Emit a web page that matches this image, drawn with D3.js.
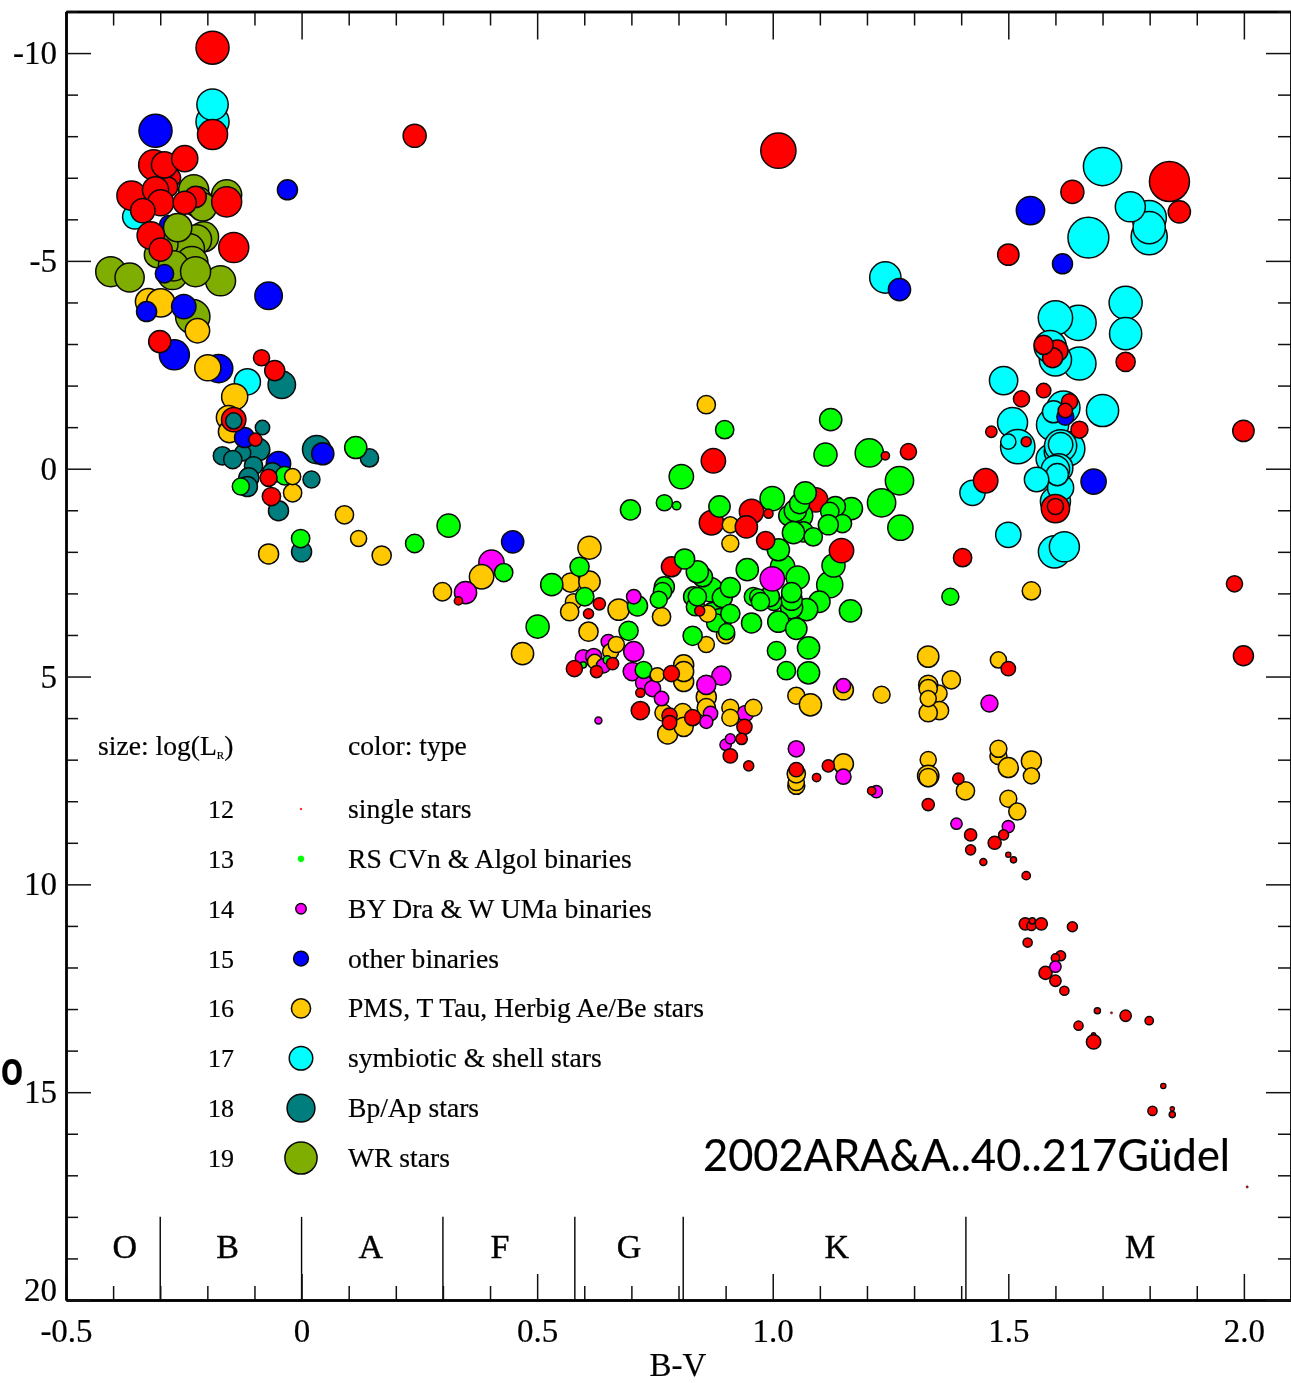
<!DOCTYPE html>
<html>
<head>
<meta charset="utf-8">
<style>
html,body{margin:0;padding:0;background:#fff;overflow:hidden}
svg{display:block;filter:blur(0.35px)}
text{font-family:"Liberation Serif","Times New Roman",serif;fill:#000;stroke:#000;stroke-width:0.2px}
</style>
<script src="https://cdn.jsdelivr.net/npm/d3@7"></script>
</head>
<body>
<svg id="chart" width="1291" height="1383"></svg>
<script>
// Every star is [B-V, absolute magnitude Mv, log(L_R)]
const apEarlyBlue = [[-0.176,-2.41,18.1],[-0.049,-0.12,17.2],[-0.320,-5.56,15.8],[-0.282,-5.87,15.8]];
const apStars = [[-0.042,-2.02,17.9],[-0.083,-0.99,14.9],[-0.091,-0.46,16.7],[-0.125,-0.38,15.3],[-0.168,-0.31,15.8],[-0.146,-0.22,15.8],[-0.102,-0.07,15.8],[0.032,-0.46,18.1],[0.144,-0.26,15.8],[-0.062,0.10,16.2],[0.021,0.26,15.5],[-0.112,0.22,16.2],[-0.115,0.43,16.2],[-0.049,1.01,16.2],[0,2.00,16.2]];
const apStarsLate = [[-0.144,-1.15,15.3]];
const wrStars = [[-0.405,-4.74,18.5],[-0.365,-4.60,18.3],[-0.229,-6.71,18.5],[-0.159,-6.59,18.5],[-0.221,-6.42,18.5],[-0.210,-6.30,18.1],[-0.208,-5.58,18.5],[-0.223,-5.51,18.5],[-0.238,-5.29,18.5],[-0.306,-5.15,17.6],[-0.290,-5.40,17.6],[-0.233,-4.96,19],[-0.172,-4.52,18.5],[-0.274,-4.67,18.5],[-0.272,-4.88,18.5],[-0.225,-4.74,18.5],[-0.231,-3.66,19.5],[-0.263,-5.80,18.1]];
const shellStars = [[-0.354,-6.06,17.2],[-0.189,-8.35,19.2],[-0.189,-8.76,18.8],[-0.115,-2.09,17.6],[1.239,-4.60,18.8],[1.700,-7.27,20.4],[1.799,-5.58,19.9],[1.799,-6.04,19.5],[1.799,-5.80,19.0],[1.759,-6.30,18.5],[1.670,-5.56,21],[1.749,-3.99,19.2],[1.749,-3.25,19.0],[1.649,-3.51,19.7],[1.600,-3.63,19.5],[1.651,-2.53,19.2],[1.600,-2.62,19],[1.589,-2.94,19],[1.490,-2.12,18.1],[1.700,-1.40,19],[1.617,-1.47,19.2],[1.594,-1.06,19],[1.596,-1.37,16.7],[1.509,-1.11,18.5],[1.520,-0.53,19.5],[1.500,-0.65,15.1],[1.626,-0.48,19.5],[1.589,-0.24,18.1],[1.604,-0.41,17.6],[1.611,-0.55,19],[1.611,-0.58,17.2],[1.600,0.79,18.5],[1.611,0.46,17.6],[1.607,-0.02,18.1],[1.600,0.02,18.1],[1.604,0.14,16.7],[1.560,0.26,17.2],[1.424,0.58,17.4],[1.500,1.59,17.4],[1.598,2.00,19],[1.619,1.88,18.5]];
const byDraEarly = [[0.403,2.26,17.4],[0.651,4.16,14.9],[0.598,4.55,15.3],[0.620,4.52,15.3],[0.942,5.89,15.3]];
const pmsStars = [[-0.325,-4.02,17.6],[-0.299,-3.99,18.1],[-0.221,-3.32,17.2],[-0.199,-2.43,17.6],[-0.142,-1.73,17.6],[-0.155,-1.23,17.2],[-0.153,-0.89,16.7],[-0.019,0.58,15.8],[0.091,1.11,15.8],[0.121,1.68,15.3],[0.170,2.09,16],[-0.070,2.05,16.2],[0.382,2.60,17.2],[0.299,2.96,15.8],[0.611,1.90,16.9],[0.571,2.74,16],[0.611,2.72,16.5],[0.577,3.20,15.3],[0.569,3.44,15.8],[0.673,3.39,16.5],[0.609,3.92,16],[0.469,4.45,16.7],[0.859,-1.54,15.8],[0.910,1.80,15.5],[0.764,3.56,15.8],[0.900,3.99,15.8],[0.859,4.23,15.3],[0.656,4.40,15.3],[0.668,4.23,15.3],[0.622,4.64,14.9],[0.811,5.12,16.2],[0.811,4.72,16.2],[0.811,4.88,16.2],[0.768,5.87,15.5],[0.809,5.87,15.8],[0.777,6.38,16.2],[0.811,6.21,16],[0.859,5.49,16.2],[0.859,5.75,15.8],[0.910,5.75,15.5],[0.910,5.99,15.5],[0.959,5.75,15.5],[1.050,5.46,15.5],[1.080,5.68,16.7],[1.050,7.63,15.5],[1.050,7.55,15.3],[1.050,7.34,15.8],[1.150,7.10,16.2],[1.150,5.32,16.2],[1.231,5.44,15.5],[1.330,4.52,16.5],[1.352,5.41,15.5],[1.354,5.82,15.8],[1.330,5.20,16],[1.330,5.29,15.8],[1.330,5.87,15.8],[1.330,5.53,15.3],[1.379,5.08,15.8],[1.479,4.60,15.3],[1.479,6.91,15.5],[1.479,6.74,15.5],[1.500,7.19,16.2],[1.549,7.03,16.2],[1.549,7.39,15.3],[1.330,7.00,15.3],[1.330,7.39,16.5],[1.330,7.43,15.8],[1.409,7.75,15.8],[1.500,7.94,15.5],[1.519,8.25,15.5],[1.549,2.94,15.8]];
const otherBinaries = [[-0.310,-8.13,19.2],[-0.030,-6.71,16.2],[-0.291,-4.69,15.8],[-0.070,-4.16,17.9],[-0.329,-3.78,16.2],[-0.250,-3.90,17.2],[-0.270,-2.74,18.5],[-0.121,-0.75,16.2],[0.045,-0.36,16.7],[0.448,1.76,16.7],[1.547,-6.21,18.1],[1.615,-4.93,16.2],[1.269,-4.31,16.7],[1.621,-1.25,15.5],[1.681,0.31,17.4]];
const byDra = [[0.348,2.98,16.7],[0.641,4.74,14.9],[0.705,4.40,16.2],[0.702,4.88,15.8],[0.726,5.15,15.3],[0.745,5.29,15.3],[0.764,5.53,14.9],[0.630,6.06,13.2],[0.891,4.98,16],[0.859,5.20,16],[0.868,5.89,14.9],[0.859,6.09,14.6],[0.900,6.64,14.2],[0.910,6.50,13.9],[1.050,6.74,15.3],[1.150,7.41,15.1],[1.150,5.22,14.9],[1.220,7.77,14.4],[1.460,5.65,15.5],[1.390,8.54,14.2],[1.500,8.61,14.4]];
const byDraLate = [[0.705,3.08,14.9],[0.999,2.65,17.2],[1.600,11.98,14.2]];
const singleEarly = [[0.870,1.30,17.2],[1.091,0.75,17.2],[0.785,2.36,16.2],[0.955,1.03,17.2]];
const rsCvn = [[0.115,-0.51,16.7],[-0.036,0.17,15.8],[-0.129,0.43,15.5],[-0.002,1.68,15.8],[0.312,1.37,16.9],[0.240,1.80,15.8],[0.429,2.50,15.8],[0.598,4.72,13],[0.649,4.60,13.5],[0.590,2.36,16],[0.531,2.79,16.7],[0.601,3.08,15.8],[0.713,3.30,16.2],[0.694,3.90,16],[0.501,3.80,16.9],[0.698,0.99,16.2],[0.770,0.82,15.3],[0.796,0.89,13.5],[0.806,0.19,17.2],[0.898,-0.94,15.8],[1.123,-1.18,16.7],[1.112,-0.34,16.9],[1.205,-0.38,18.1],[1.269,0.29,18.1],[1.231,0.82,18.1],[1.271,1.42,17.4],[0.887,0.91,16.5],[0.999,0.72,17.2],[1.059,1.13,17.2],[1.034,1.13,16.2],[1.048,1.01,16.7],[1.057,0.84,16.2],[1.069,0.58,16.7],[1.065,1.52,16.2],[1.044,1.54,16.7],[1.086,1.64,15.8],[1.167,0.96,16.7],[1.133,0.91,16.2],[1.121,1.03,15.8],[1.148,1.32,15.8],[1.118,1.35,16.2],[1.021,2.36,17.2],[1.012,1.95,16.7],[1.053,2.62,16.9],[1.121,2.79,17.6],[1.129,2.33,16.9],[1.099,3.20,16.5],[1.165,3.42,16.7],[1.072,3.39,16.7],[1.040,3.34,16.7],[1.040,3.15,16.5],[1.040,2.98,16.2],[1.002,3.22,15.3],[1.012,3.68,16.5],[1.050,3.85,16.5],[0.946,2.43,16.7],[0.993,3.08,16.2],[0.959,3.08,15.8],[0.968,3.08,15.3],[0.974,3.20,15.8],[0.955,3.71,16.2],[0.868,2.91,17.2],[0.851,2.60,16.2],[0.840,2.48,16.7],[0.813,2.17,16.2],[0.770,2.84,16.2],[0.766,2.96,15.8],[0.758,3.15,15.5],[0.832,3.08,16.2],[0.836,3.32,15.8],[0.840,3.08,15.8],[0.872,3.46,16.2],[0.893,3.10,16.2],[0.910,2.86,16.2],[0.889,3.63,16.7],[0.879,3.71,15.8],[0.910,3.49,16],[0.902,3.92,15.3],[0.830,4.02,16],[1.008,4.38,15.8],[1.076,4.31,16.7],[1.029,4.86,15.8],[1.076,4.91,16.7],[0.726,4.84,15.5],[1.377,3.08,15.5]];
const pmsLate = [[-0.019,0.19,15.3],[0.910,1.35,15.3],[0.862,3.49,15.5],[0.755,4.96,14.9]];
const singleStars = [[-0.189,-10.13,19.2],[-0.189,-8.04,18.5],[-0.278,-7.00,16.2],[-0.284,-6.78,16.2],[-0.314,-7.31,18.5],[-0.291,-7.31,17.6],[-0.248,-7.46,17.6],[-0.361,-6.57,18.3],[-0.310,-6.71,17.6],[-0.225,-6.54,16.5],[-0.299,-6.40,17.6],[-0.337,-6.21,17.2],[-0.248,-6.40,16.9],[-0.159,-6.42,18.5],[-0.320,-5.61,17.9],[-0.299,-5.27,16.9],[-0.144,-5.32,18.5],[-0.301,-3.06,16.7],[-0.085,-2.67,15.3],[-0.057,-2.36,16.2],[-0.144,-1.18,17.2],[-0.098,-0.70,14.6],[-0.070,0.22,15.5],[-0.064,0.67,15.8],[0.240,-8.01,16.9],[1.012,-7.65,19.7],[0.333,3.18,13.5],[0.632,3.25,14.4],[0.609,3.49,13.9],[0.874,-0.19,17.2],[1.239,-0.31,13.5],[1.288,-0.41,15.3],[0.944,1.40,16.7],[0.991,1.08,13.7],[0.985,1.73,15.8],[1.146,1.97,17.2],[0.845,3.42,13.9],[0.579,4.81,15.3],[0.660,4.69,14.4],[0.626,4.88,14.4],[0.785,4.93,15.3],[0.719,5.39,13.7],[0.719,5.82,15.8],[0.781,5.94,15.1],[0.781,6.11,14.9],[0.830,5.99,15.3],[0.940,6.21,15.1],[0.934,6.50,14.2],[0.910,6.91,14.9],[0.949,7.15,13.9],[1.050,7.24,14.9],[1.093,7.43,13.5],[1.118,7.15,14.4],[1.210,7.75,13.5],[1.500,4.81,14.9],[1.394,7.46,14.2],[1.330,8.08,14.4],[1.420,8.81,14.4],[1.420,9.17,13.9],[1.447,9.46,13.2],[1.471,9.00,14.6],[1.490,8.81,13.9],[1.500,9.29,12.8],[1.511,9.41,13],[1.538,9.79,13.5],[1.536,10.95,14.4],[1.549,11.00,13.7],[1.570,10.95,14.4],[1.551,10.88,13],[1.636,11.02,13.9],[1.541,11.40,13.7],[1.611,11.72,13.9],[1.600,11.77,13.5],[1.579,12.13,14.6],[1.600,12.32,14.2],[1.619,12.56,13.7],[1.689,13.04,13],[1.719,13.09,12.1],[1.749,13.16,14.2],[1.799,13.28,13.5],[1.649,13.40,13.7],[1.681,13.62,12.6],[1.681,13.79,14.9],[1.829,14.85,12.8],[1.806,15.45,13.7],[1.848,15.40,12.6],[1.848,15.54,13],[2.007,17.28,12.1],[1.842,-6.91,20.8],[1.636,-6.66,16.9],[1.863,-6.18,16.7],[1.500,-5.15,16.5],[1.749,-2.57,16],[1.604,-2.84,16.5],[1.594,-2.67,16.2],[1.575,-2.98,16],[1.528,-1.68,15.3],[1.575,-1.88,14.9],[1.630,-1.61,15.3],[1.621,-1.40,14.9],[1.651,-0.94,15.5],[1.464,-0.89,14.2],[1.538,-0.65,13.9],[1.600,0.96,18.1],[1.600,0.91,15.3],[1.452,0.29,17.2],[1.403,2.14,15.8],[1.999,-0.91,16.5],[1.980,2.77,15.3],[1.999,4.50,16.2]];

const legendSizes = [12,13,14,15,16,17,18,19];
const legendLabels = ["single stars","RS CVn & Algol binaries","BY Dra & W UMa binaries","other binaries","PMS, T Tau, Herbig Ae/Be stars","symbiotic & shell stars","Bp/Ap stars","WR stars"];
const legendTypes = ["single","rscvn","bydra","other","pms","shell","ap","wr"];
const spectralEdges = [-0.3,0,0.3,0.58,0.81,1.41];
const spectralNames = ["O","B","A","F","G","K","M"];
const spectralLabelBV = [-0.375,-0.157,0.147,0.421,0.695,1.136,1.78];
const xMajor = [-0.5,0,0.5,1.0,1.5,2.0];
const xMajorLabels = ["-0.5","0","0.5","1.0","1.5","2.0"];
const yMajor = [-10,-5,0,5,10,15,20];
const yMajorLabels = ["-10","-5","0","5","10","15","20"];

const typeColor = {single:"#ff0000",rscvn:"#00ff00",bydra:"#ff00ff",other:"#0000ff",pms:"#ffc800",shell:"#00ffff",ap:"#007d7d",wr:"#7fae00"};
const drawOrder = [["other",apEarlyBlue],["ap",apStars],["wr",wrStars],["shell",shellStars],["bydra",byDraEarly],["pms",pmsStars],["other",otherBinaries],["bydra",byDra],["single",singleEarly],["rscvn",rsCvn],["pms",pmsLate],["single",singleStars],["ap",apStarsLate],["bydra",byDraLate]];

const svg = d3.select("#chart");
const x = d3.scaleLinear().domain([-0.5,2.1]).range([66,1291]);
const y = d3.scaleLinear().domain([-11,20]).range([11.5,1300]);
const rad = d3.scaleLinear().domain([12,19]).range([0.8,16]);
const [L,R] = x.range(), [T,B] = y.range();

function dot(sel){
  sel.attr("r",d=>Math.max(0.35,rad(d.L)+0.1))
     .attr("fill",d=>typeColor[d.t])
     .attr("stroke","#0a0a0a")
     .attr("stroke-width",d=>Math.min(1.5,Math.max(0.2,rad(d.L)*0.5)));
}
const starsG = svg.append("g");
drawOrder.forEach(([t,arr])=>{
  starsG.append("g").selectAll("circle").data(arr.map(p=>({bv:p[0],mv:p[1],L:p[2],t})))
    .join("circle").attr("cx",d=>x(d.bv)).attr("cy",d=>y(d.mv)).call(dot);
});

// spectral class strip
svg.append("g").selectAll("line").data(spectralEdges).join("line")
  .attr("x1",d=>x(d)).attr("x2",d=>x(d)).attr("y1",y(18)).attr("y2",B)
  .attr("stroke","#000").attr("stroke-width",1.4);
svg.append("g").selectAll("text").data(spectralNames).join("text")
  .attr("x",(d,i)=>x(spectralLabelBV[i])).attr("y",1258).attr("text-anchor","middle")
  .attr("font-size",34).style("stroke-width","0.4px").text(d=>d);

// axes
const xMinor = d3.range(-5,21).map(v=>v/10).filter(v=>!xMajor.includes(v));
const yMinor = d3.range(-11,21).filter(v=>!yMajor.includes(v));
function styleAxis(g){ g.select(".domain").attr("stroke","#000").attr("stroke-width",2.4);
  g.selectAll(".tick line").attr("stroke","#111").attr("stroke-width",1.5);
  g.selectAll(".tick text").attr("font-family",'"Liberation Serif",serif').attr("font-size",33).attr("fill","#000"); }
const lab = (vals,labs)=>d=>labs[vals.indexOf(d)];
svg.append("g").attr("transform",`translate(0,${B})`)
  .call(d3.axisBottom(x).tickValues(xMinor).tickSize(-14).tickSizeOuter(0).tickFormat("")).call(styleAxis);
svg.append("g").attr("transform",`translate(0,${B})`)
  .call(d3.axisBottom(x).tickValues(xMajor).tickSize(-26).tickSizeOuter(0).tickPadding(19).tickFormat(lab(xMajor,xMajorLabels))).call(styleAxis);
svg.append("g").attr("transform",`translate(0,${T})`)
  .call(d3.axisTop(x).tickValues(xMinor).tickSize(-14).tickSizeOuter(0).tickFormat("")).call(styleAxis);
svg.append("g").attr("transform",`translate(0,${T})`)
  .call(d3.axisTop(x).tickValues(xMajor).tickSize(-28).tickSizeOuter(0).tickFormat("")).call(styleAxis);
svg.append("g").attr("transform",`translate(${L},0)`)
  .call(d3.axisLeft(y).tickValues(yMinor).tickSize(-12).tickSizeOuter(0).tickFormat("")).call(styleAxis);
const leftMajor = svg.append("g").attr("transform",`translate(${L},0)`)
  .call(d3.axisLeft(y).tickValues(yMajor).tickSize(-25).tickSizeOuter(0).tickPadding(9).tickFormat(lab(yMajor,yMajorLabels))).call(styleAxis);
leftMajor.selectAll(".tick text").filter(d=>d===20).attr("dy","0");
svg.append("g").attr("transform",`translate(${R},0)`)
  .call(d3.axisRight(y).tickValues(yMinor).tickSize(-13).tickSizeOuter(0).tickFormat("")).call(styleAxis);
svg.append("g").attr("transform",`translate(${R},0)`)
  .call(d3.axisRight(y).tickValues(yMajor).tickSize(-25).tickSizeOuter(0).tickFormat("")).call(styleAxis);

svg.append("text").attr("x",678).attr("y",1376).attr("text-anchor","middle").attr("font-size",33).text("B-V");

// legend
const lf = 27.6;
const sz = svg.append("text").attr("x",98).attr("y",755).attr("font-size",lf);
sz.append("tspan").text("size: log(L");
sz.append("tspan").attr("font-size",11).attr("dy",4).text("R");
sz.append("tspan").attr("dy",-4).text(")");
svg.append("text").attr("x",348).attr("y",755).attr("font-size",lf).text("color: type");
const rowY = d3.scalePoint().domain(legendSizes).range([809,1158]);
const rows = svg.append("g").selectAll("g").data(legendSizes).join("g")
  .attr("transform",d=>`translate(0,${rowY(d)})`);
rows.append("text").attr("x",234).attr("y",9).attr("text-anchor","end").attr("font-size",26).text(d=>d);
rows.append("circle").attr("cx",301).attr("cy",0).datum((d,i)=>({L:d,t:legendTypes[i]})).call(dot)
  .filter(d=>d.L<=13).attr("stroke",d=>typeColor[d.t]).attr("stroke-width",0.4);
rows.append("text").attr("x",348).attr("y",9).attr("font-size",lf).text((d,i)=>legendLabels[i]);

// stamped annotations
svg.append("text").attr("x",703).attr("y",1171).attr("textLength",527).attr("lengthAdjust","spacingAndGlyphs")
  .style("font-family",'"Comic Sans MS","Lato",sans-serif').attr("font-size",45).text("2002ARA&A..40..217Güdel");
svg.append("text").attr("x",1).attr("y",1085).attr("textLength",22).attr("lengthAdjust","spacingAndGlyphs")
  .style("font-family",'"Lato",sans-serif').style("font-weight",700).attr("font-size",50).text("o");
</script>
</body>
</html>
